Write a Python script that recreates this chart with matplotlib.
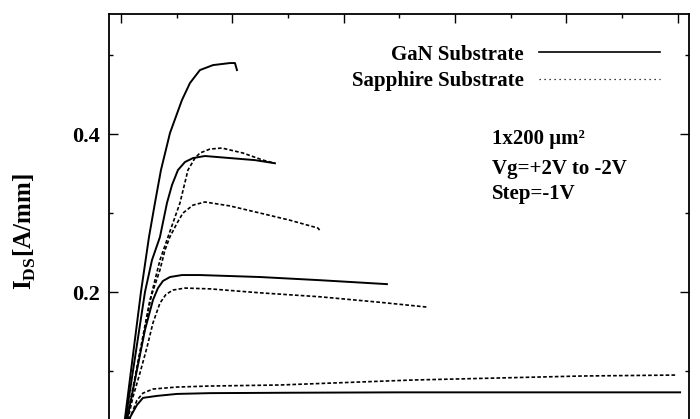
import numpy as np
import matplotlib
matplotlib.use("Agg")
import matplotlib.pyplot as plt
from matplotlib.lines import Line2D
from matplotlib.ticker import MultipleLocator, FixedLocator

plt.rcParams['font.family'] = ['Liberation Serif', 'DejaVu Serif']
plt.rcParams['font.weight'] = 'bold'
plt.rcParams['mathtext.fontset'] = 'custom'
plt.rcParams['mathtext.rm'] = 'Liberation Serif:bold'
plt.rcParams['mathtext.bf'] = 'Liberation Serif:bold'

# drain voltage (V) / drain current (A/mm)
gan_vd = [
    [0, 0.359, 0.503, 0.610, 0.718, 0.880, 1.095, 1.239, 1.418, 1.652, 1.957, 2.047, 2.083],
    [0, 0.431, 0.557, 0.70, 0.826, 0.916, 1.023, 1.149, 1.293, 1.508, 1.957, 2.406, 2.765],
    [0, 0.431, 0.575, 0.664, 0.754, 0.88, 1.095, 1.418, 2.496, 3.57, 4.776],
    [0, 0.16, 0.287, 0.395, 0.646, 1.005, 1.598, 3.0, 5.0, 8.0, 10.04],
]
gan_id = [
    [0, 0.200, 0.2696, 0.3127, 0.3544, 0.4013, 0.443, 0.4646, 0.481, 0.4873, 0.4899, 0.4899, 0.481],
    [0, 0.200, 0.2405, 0.2696, 0.3127, 0.3354, 0.3544, 0.3646, 0.3696, 0.3722, 0.3696, 0.367, 0.363],
    [0, 0.152, 0.19, 0.205, 0.214, 0.219, 0.2215, 0.2215, 0.219, 0.215, 0.210],
    [0, 0.041, 0.057, 0.066, 0.0685, 0.071, 0.072, 0.0725, 0.073, 0.073, 0.073],
]
sap_vd = [
    [0, 0.557, 0.70, 0.844, 1.059, 1.203, 1.329, 1.418, 1.598, 1.813, 2.19, 2.55, 2.765],
    [0, 0.52, 0.70, 0.79, 0.88, 1.005, 1.113, 1.293, 1.508, 1.957, 2.496, 3.03, 3.537, 3.57],
    [0, 0.215, 0.341, 0.467, 0.575, 0.70, 0.808, 0.934, 1.149, 1.598, 2.496, 3.57, 4.65, 5.49],
    [0, 0.16, 0.287, 0.395, 0.575, 1.005, 1.598, 2.85, 5.24, 8.29, 9.98],
]
sap_id = [
    [0, 0.200, 0.2405, 0.2696, 0.3127, 0.3544, 0.3696, 0.376, 0.381, 0.3823, 0.376, 0.367, 0.363],
    [0, 0.19, 0.228, 0.253, 0.27, 0.287, 0.30, 0.310, 0.314, 0.309, 0.30, 0.291, 0.281, 0.278],
    [0, 0.067, 0.0975, 0.130, 0.161, 0.186, 0.197, 0.2025, 0.205, 0.204, 0.199, 0.194, 0.187, 0.181],
    [0, 0.04, 0.063, 0.072, 0.0772, 0.0797, 0.081, 0.0823, 0.0886, 0.0937, 0.0949],
]

fig = plt.figure(figsize=(7.0, 4.19), dpi=100)
ax = fig.add_axes([0.1557, -0.074, 0.8286, 1.0406])

for x, y in zip(gan_vd, gan_id):
    ax.plot(x, y, color='black', lw=1.4, ls='-')
for x, y in zip(sap_vd, sap_id):
    ax.plot(x, y, color='black', lw=1.2, ls=(0, (2.2, 1.3)))

ax.set_xlim(-0.215, 10.2)
ax.set_ylim(0, 0.552)
ax.xaxis.set_major_locator(MultipleLocator(2))
ax.xaxis.set_minor_locator(MultipleLocator(1))
ax.yaxis.set_major_locator(FixedLocator([0.2, 0.4]))
ax.yaxis.set_minor_locator(FixedLocator([0.1, 0.3, 0.5]))
ax.yaxis.set_major_formatter(plt.FuncFormatter(lambda v, p: f'{v:.1f}'))
ax.tick_params(which='both', direction='in', top=True, right=True, width=1.0,
               labelbottom=False)
ax.tick_params(which='major', length=6.5, labelsize=16, pad=6.5)
ax.tick_params(which='minor', length=3)
for s in ax.spines.values():
    s.set_linewidth(1.3)

ax.set_ylabel(r'I$_{\mathregular{DS}}$[A/mm]', fontsize=18, fontweight='bold')
ax.yaxis.set_label_coords(-0.122, 0.5)

handles = [Line2D([], [], color='black', lw=1.2, ls='-'),
           Line2D([], [], color='black', lw=0.9, ls=(0, (1, 3)))]
ax.legend(handles, ['GaN Substrate', 'Sapphire Substrate'], markerfirst=False,
          frameon=False, loc='upper right', bbox_to_anchor=(0.95, 0.93),
          borderpad=0, borderaxespad=0, handlelength=5.8, handletextpad=0.75,
          labelspacing=0.32, prop={'family': 'Liberation Serif', 'weight': 'bold', 'size': 15})

ax.text(0.660, 0.713, '1x200 μm²', transform=ax.transAxes, fontsize=15,
        fontweight='bold', va='center', ha='left')
ax.text(0.660, 0.644, 'Vg=+2V to -2V', transform=ax.transAxes, fontsize=15,
        fontweight='bold', va='center', ha='left')
ax.text(0.660, 0.587, 'Step=-1V', transform=ax.transAxes, fontsize=15,
        fontweight='bold', va='center', ha='left')

fig.savefig('out.png', dpi=100)
